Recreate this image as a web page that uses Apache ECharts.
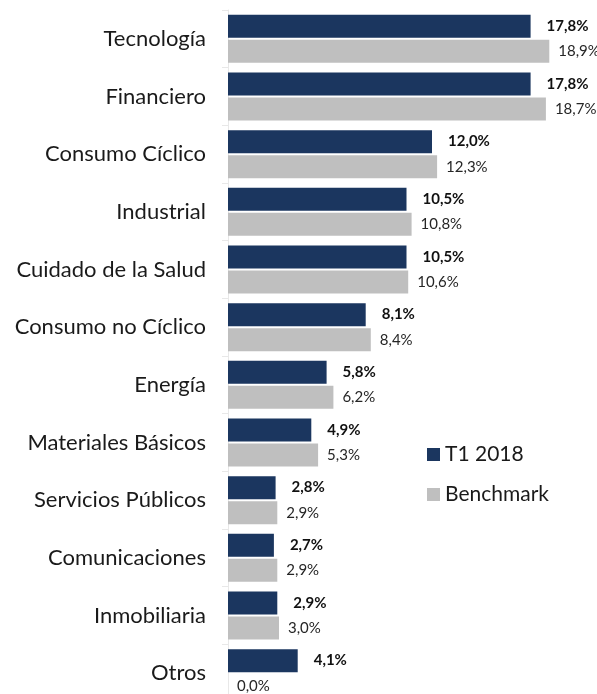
<!DOCTYPE html>
<html>
<head>
<meta charset="utf-8">
<script src="https://cdn.jsdelivr.net/npm/echarts@6/dist/echarts.min.js"></script>
<style>
  html, body { margin: 0; padding: 0; background: #fff; }
  #chart { width: 597px; height: 694px; }
</style>
</head>
<body>
<div id="chart"></div>
<script>
// datos del gráfico
const categorias = ['Tecnología', 'Financiero', 'Consumo Cíclico', 'Industrial', 'Cuidado de la Salud',
  'Consumo no Cíclico', 'Energía', 'Materiales Básicos', 'Servicios Públicos', 'Comunicaciones',
  'Inmobiliaria', 'Otros']
const t1_2018 = [17.8, 17.8, 12.0, 10.5, 10.5, 8.1, 5.8, 4.9, 2.8, 2.7, 2.9, 4.1]
const benchmark = [18.9, 18.7, 12.3, 10.8, 10.6, 8.4, 6.2, 5.3, 2.9, 2.9, 3.0, 0.0]

const fuente = 'Lato'
const fmt = p => p.value.toFixed(1).replace('.', ',') + '%'

let mychart = echarts.init(document.getElementById('chart'))
let option = {
  animation: false,
  textStyle: { fontFamily: fuente },
  legend: {
    orient: 'vertical',
    left: 422,
    top: 439,
    itemWidth: 13,
    itemHeight: 13,
    itemGap: 19,
    icon: 'rect',
    textStyle: { fontFamily: fuente, fontSize: 21, color: '#1a1a1a' },
    data: ['T1 2018', 'Benchmark']
  },
  // la ultima categoria queda parcialmente fuera del lienzo, como en el original
  grid: { left: 228, top: 10, width: 340, height: 692, outerBoundsMode: 'none' },
  xAxis: {
    type: 'value',
    min: 0,
    max: 20,
    show: false
  },
  yAxis: {
    type: 'category',
    inverse: true,
    data: categorias,
    axisLine: { show: true, lineStyle: { color: '#e8e8e8' } },
    axisTick: { show: true, length: 6, lineStyle: { color: '#e8e8e8' } },
    axisLabel: { fontFamily: fuente, fontSize: 22, color: '#1a1a1a', margin: 22 }
  },
  series: [
    {
      name: 'T1 2018',
      type: 'bar',
      data: t1_2018,
      barWidth: 23,
      barGap: '9%',
      itemStyle: { color: '#1b365f' },
      label: {
        show: true,
        position: 'right',
        distance: 16,
        formatter: fmt,
        fontFamily: fuente,
        fontSize: 15,
        fontWeight: 'bold',
        color: '#111'
      }
    },
    {
      name: 'Benchmark',
      type: 'bar',
      data: benchmark,
      barWidth: 23,
      itemStyle: { color: '#bfbfbf' },
      label: {
        show: true,
        position: 'right',
        distance: 9,
        formatter: fmt,
        fontFamily: fuente,
        fontSize: 15,
        color: '#262626'
      }
    }
  ]
}
mychart.setOption(option)
</script>
</body>
</html>
